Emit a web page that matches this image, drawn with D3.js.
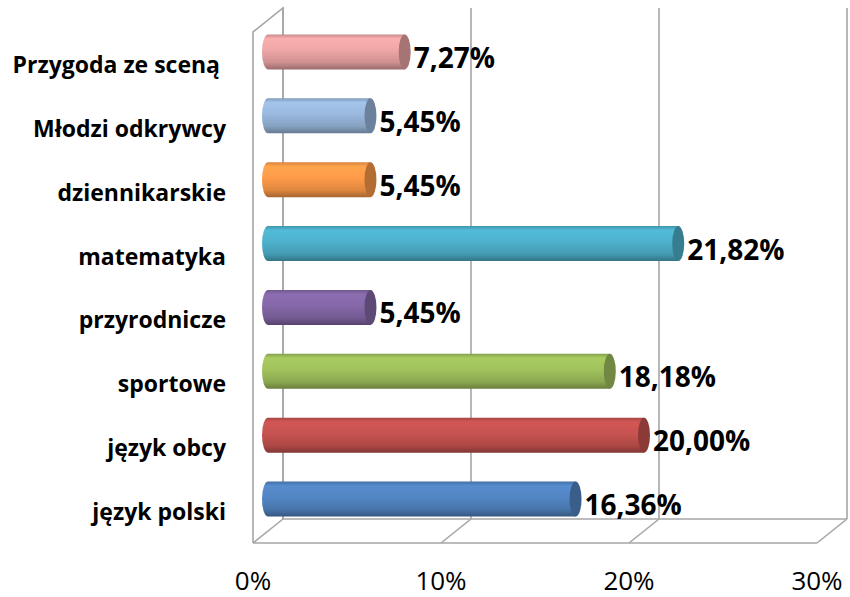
<!DOCTYPE html>
<html>
<head>
<meta charset="utf-8">
<script src="https://cdn.jsdelivr.net/npm/d3@7"></script>
<style>
  body { margin: 0; background: #fff; }
  svg { display: block; }
</style>
</head>
<body>
<div id="chart"></div>
<script>
const width = 850, height = 597;

// data, bottom to top as in the source chart
const categories = ["język polski", "język obcy", "sportowe", "przyrodnicze", "matematyka", "dziennikarskie", "Młodzi odkrywcy", "Przygoda ze sceną "];
const values = [16.36, 20.00, 18.18, 5.45, 21.82, 5.45, 5.45, 7.27];
const barColors = ["#4f81bd", "#c0504d", "#9bbb59", "#8064a2", "#4bacc6", "#f79646", "#95b3d7", "#e6a0a0"];
const tickValues = [0, 10, 20, 30];

// 3d depth offset of the back wall
const depthX = 30, depthY = -24;

const svg = d3.select("#chart").append("svg")
    .attr("width", width)
    .attr("height", height);

const x = d3.scaleLinear().domain([0, 30]).range([253, 817]);
const y = d3.scaleBand().domain(categories.slice().reverse()).range([32, 543]);

const gridColor = "#a6a6a6";
const walls = svg.append("g").attr("fill", "none").attr("stroke", gridColor).attr("stroke-width", 1.6);

// left wall
walls.append("path")
    .attr("d", `M${x(0)},${y.range()[1]} V${y.range()[0]} L${x(0) + depthX},${y.range()[0] + depthY} V${y.range()[1] + depthY}`);

// back wall gridlines
walls.selectAll(".grid")
    .data(tickValues)
    .join("line")
    .attr("x1", d => x(d) + depthX)
    .attr("x2", d => x(d) + depthX)
    .attr("y1", y.range()[0] + depthY)
    .attr("y2", y.range()[1] + depthY);

// floor
walls.append("line")
    .attr("x1", x(0)).attr("x2", x(30))
    .attr("y1", y.range()[1]).attr("y2", y.range()[1]);
walls.append("line")
    .attr("x1", x(0) + depthX).attr("x2", x(30) + depthX)
    .attr("y1", y.range()[1] + depthY).attr("y2", y.range()[1] + depthY);
walls.selectAll(".floor")
    .data(tickValues)
    .join("line")
    .attr("x1", d => x(d))
    .attr("x2", d => x(d) + depthX)
    .attr("y1", y.range()[1])
    .attr("y2", y.range()[1] + depthY);

// gradients for cylinders
const defs = svg.append("defs");
barColors.forEach((c, i) => {
    const base = d3.color(c);
    const g = defs.append("linearGradient")
        .attr("id", "grad" + i)
        .attr("x1", 0).attr("y1", 0).attr("x2", 0).attr("y2", 1);
    g.append("stop").attr("offset", "0%").attr("stop-color", base.darker(0.4));
    g.append("stop").attr("offset", "12%").attr("stop-color", base.brighter(0.25));
    g.append("stop").attr("offset", "45%").attr("stop-color", base.brighter(0.1));
    g.append("stop").attr("offset", "80%").attr("stop-color", base.darker(0.3));
    g.append("stop").attr("offset", "100%").attr("stop-color", base.darker(1.1));
});

const barH = 35, rx = 6;
const midX = depthX / 2, midY = depthY / 2;

const bars = svg.append("g")
    .selectAll("g")
    .data(categories)
    .join("g");

bars.each(function (d, i) {
    const g = d3.select(this);
    const cy = y(d) + y.bandwidth() / 2 + midY;
    const x0 = x(0) + midX;
    const x1 = x(values[i]) + midX;
    const top = cy - barH / 2, bot = cy + barH / 2;
    g.append("path")
        .attr("d", `M${x1},${top} H${x0} A${rx},${barH / 2} 0 0 0 ${x0},${bot} H${x1} Z`)
        .attr("fill", `url(#grad${i})`);
    g.append("ellipse")
        .attr("cx", x1).attr("cy", cy)
        .attr("rx", rx).attr("ry", barH / 2)
        .attr("fill", d3.color(barColors[i]).darker(0.9));
    g.append("text")
        .attr("x", x1 + rx + 3)
        .attr("y", cy + 16)
        .attr("font-family", "'Open Sans', sans-serif")
        .attr("font-weight", "bold")
        .attr("font-size", 28)
        .attr("fill", "#000")
        .text(values[i].toFixed(2).replace(".", ",") + "%");
});

// category labels
svg.append("g")
    .selectAll("text")
    .data(categories)
    .join("text")
    .attr("x", 226)
    .attr("y", d => y(d) + y.bandwidth() / 2 + 9)
    .attr("text-anchor", "end")
    .attr("font-family", "'Open Sans', sans-serif")
    .attr("font-weight", "bold")
    .attr("font-size", 23)
    .style("white-space", "pre")
    .text(d => d);

// x tick labels
svg.append("g")
    .selectAll("text")
    .data(tickValues)
    .join("text")
    .attr("x", d => x(d))
    .attr("y", 590)
    .attr("text-anchor", "middle")
    .attr("font-family", "'Open Sans', sans-serif")
    .attr("font-size", 26)
    .text(d => d + "%");
</script>
</body>
</html>
